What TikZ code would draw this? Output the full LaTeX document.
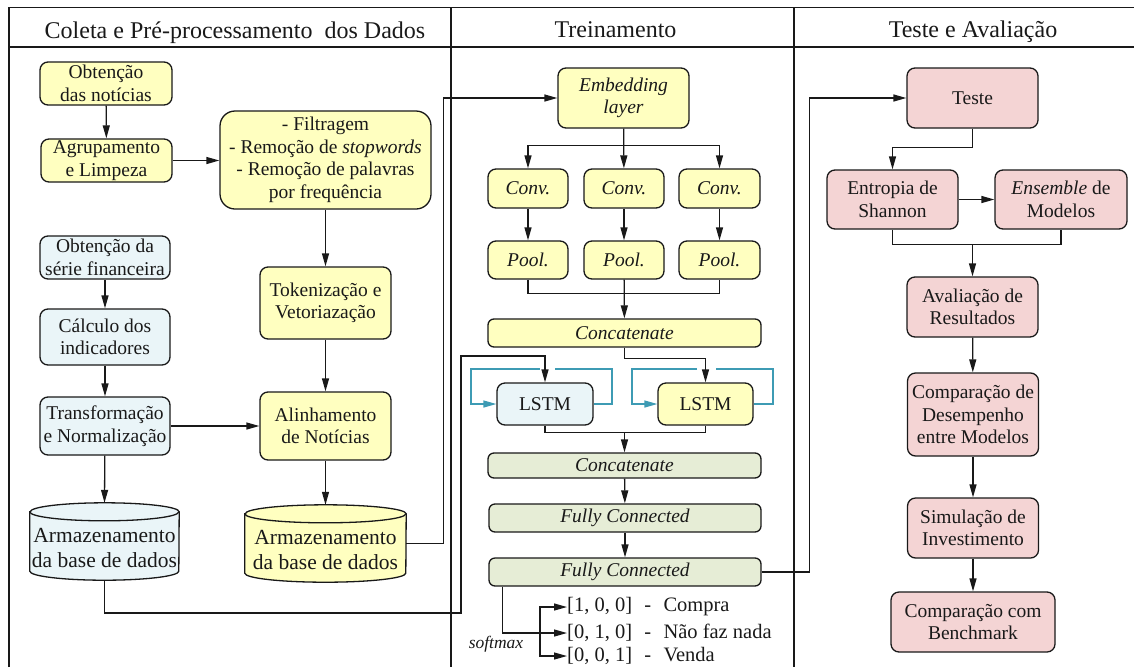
\documentclass[tikz,border=0pt]{standalone}
\usepackage{fontspec}
\setmainfont{Liberation Serif}
\usetikzlibrary{arrows.meta,calc}

\definecolor{yel}{RGB}{255,255,192}
\definecolor{blu}{RGB}{234,245,248}
\definecolor{grn}{RGB}{230,237,214}
\definecolor{pnk}{RGB}{244,212,212}
\definecolor{loopc}{RGB}{61,155,180}
\definecolor{ink}{RGB}{25,25,25}

\newcommand\nfont{\fontsize{19.5}{22.5}\selectfont}
\newcommand\cfont{\fontsize{21.5}{25}\selectfont}
\newcommand\hfont{\fontsize{24}{26}\selectfont}

% database cylinder drawn around an empty node: name, fill, half width
\newcommand\dbcyl[3]{%
  \path[draw=ink, line width=1.3pt, fill=#2]
    ($(#1.north west)+(0,9)$) -- ($(#1.south west)+(0,-9)$)
    arc[start angle=180, end angle=360, x radius=#3pt, y radius=9pt]
    -- ($(#1.north east)+(0,9)$)
    arc[start angle=0, end angle=180, x radius=#3pt, y radius=9pt] -- cycle;
  \draw[ink, line width=1.3pt] ($(#1.north west)+(0,9)$)
    arc[start angle=180, end angle=360, x radius=#3pt, y radius=9pt];
}

\begin{document}
\begin{tikzpicture}[x=1pt,y=-1pt,
  box/.style={draw=ink, line width=1.3pt, rounded corners=8pt, align=center,
    inner sep=0pt, font=\nfont, text=ink},
  ibox/.style={box, font=\nfont\itshape},
  frame/.style={line width=1.7pt, draw=ink},
  conn/.style={line width=1.3pt, draw=ink},
  arr/.style={conn, -{Triangle[length=13pt,width=7pt]}},
  rec/.style={line width=1.3pt, draw=loopc},
  recarr/.style={rec, -{Triangle[length=13pt,width=7pt]}},
  outtxt/.style={anchor=west, inner sep=0pt, font=\fontsize{20.5}{22}\selectfont, text=ink}]

\useasboundingbox (0,0) rectangle (1134,667);

% ---- frame and headers
\draw[frame] (9,667) -- (9,7.5) -- (1134,7.5);
\draw[frame] (9,47) -- (1134,47);
\draw[frame] (451,7.5) -- (451,667);
\draw[frame] (794,7.5) -- (794,667);
\node[anchor=base, inner sep=0pt, font=\hfont, text=ink] (h1) at (235,38) {Coleta e Pré-processamento~ dos Dados};
\node[anchor=base, inner sep=0pt, font=\hfont, text=ink] (h2) at (615.5,37.5) {Treinamento};
\node[anchor=base, inner sep=0pt, font=\hfont, text=ink] (h3) at (973,37.5) {Teste e Avaliação};

% ---- data collection and preprocessing
\node[box, fill=yel, minimum width=132, minimum height=43] (obt) at (106,83.5) {Obtenção\\das notícias};
\node[box, fill=yel, minimum width=131, minimum height=43] (agr) at (106.5,160.5) {Agrupamento\\e Limpeza};
\node[box, fill=yel, rounded corners=15pt, minimum width=211, minimum height=98] (filt) at (325.5,160)
  {- Filtragem\\- Remoção de \textit{stopwords}\\- Remoção de palavras\\por frequência};
\node[box, fill=blu, minimum width=130, minimum height=43] (serie) at (105,257.5) {Obtenção da\\série financeira};
\node[box, fill=blu, minimum width=130, minimum height=56] (calc) at (105,337) {Cálculo dos\\indicadores};
\node[box, fill=blu, minimum width=130, minimum height=58] (transf) at (105,426) {Transformação\\e Normalização};
\node[box, fill=yel, minimum width=131, minimum height=72] (token) at (325.5,303) {Tokenização e\\Vetoriazação};
\node[box, fill=yel, minimum width=131, minimum height=68] (alin) at (325.5,426) {Alinhamento\\de Notícias};

\node[inner sep=0pt, minimum width=149, minimum height=77] (cyl1) at (104.5,541.5) {};
\dbcyl{cyl1}{blu}{74.5}
\node[align=center, inner sep=0pt, font=\cfont, text=ink] (cyl1t) at (104.5,548) {Armazenamento\\da base de dados};
\node[inner sep=0pt, minimum width=161, minimum height=77] (cyl2) at (325.5,543.5) {};
\dbcyl{cyl2}{yel}{80.5}
\node[align=center, inner sep=0pt, font=\cfont, text=ink] (cyl2t) at (325.5,550) {Armazenamento\\da base de dados};

\draw[arr] (obt) -- (agr);
\draw[arr] (agr.east) -- (agr.east -| filt.west);
\draw[arr] (filt) -- (token);
\draw[arr] (token) -- (alin);
\draw[arr] (serie) -- (calc);
\draw[arr] (calc) -- (transf);
\draw[arr] (transf) -- (cyl1.north);
\draw[arr] (transf.east) -- (transf.east -| alin.west);
\draw[arr] (alin) -- (cyl2.north);

% ---- training
\node[ibox, fill=yel, minimum width=131, minimum height=60] (emb) at (623.5,98) {Embedding\\layer};
\node[ibox, fill=yel, minimum width=80, minimum height=39] (conv1) at (528,188.5) {Conv.};
\node[ibox, fill=yel, minimum width=80, minimum height=39] (conv2) at (624,188.5) {Conv.};
\node[ibox, fill=yel, minimum width=81, minimum height=39] (conv3) at (719.5,188.5) {Conv.};
\node[ibox, fill=yel, minimum width=80, minimum height=38] (pool1) at (528,260) {Pool.};
\node[ibox, fill=yel, minimum width=80, minimum height=38] (pool2) at (624,260) {Pool.};
\node[ibox, fill=yel, minimum width=81, minimum height=38] (pool3) at (719.5,260) {Pool.};
\node[ibox, fill=yel, rounded corners=6pt, minimum width=273, minimum height=28] (cat1) at (624.5,333) {Concatenate};
\node[box, fill=blu, minimum width=96, minimum height=42] (lstm1) at (545,404) {LSTM};
\node[box, fill=yel, minimum width=95, minimum height=42] (lstm2) at (705.5,404) {LSTM};
\node[ibox, fill=grn, rounded corners=6pt, minimum width=273, minimum height=25] (cat2) at (624.5,465.5) {Concatenate};
\node[ibox, fill=grn, rounded corners=6pt, minimum width=272, minimum height=28] (fc1) at (625,518) {Fully Connected};
\node[ibox, fill=grn, rounded corners=6pt, minimum width=272, minimum height=28] (fc2) at (625,572) {Fully Connected};

\node[outtxt] (out1) at (567,607) {[1, 0, 0]\hspace{0.6em}-\hspace{0.6em}Compra};
\node[outtxt] (out2) at (567,633) {[0, 1, 0]\hspace{0.6em}-\hspace{0.6em}Não faz nada};
\node[outtxt] (out3) at (567,656) {[0, 0, 1]\hspace{0.6em}-\hspace{0.6em}Venda};
\node[inner sep=0pt, font=\fontsize{17.5}{19}\selectfont\itshape, text=ink] (smax) at (496,644) {softmax};

% news database to the embedding layer
\draw[arr] (cyl2.east) -- ++(37,0) |- (emb.west);
% financial database to the first LSTM
\coordinate (j1) at (461,613);
\coordinate (j2) at (461,356);
\draw[arr] (cyl1.south) |- (j1) -- (j2) -| (lstm1.north);

\draw[conn] (emb.south) -- ++(0,17) coordinate (eb);
\draw[arr] (eb) -| (conv1.north);
\draw[arr] (eb) -| (conv3.north);
\draw[arr] (emb) -- (conv2);
\draw[arr] (conv1) -- (pool1);
\draw[arr] (conv2) -- (pool2);
\draw[arr] (conv3) -- (pool3);
\draw[conn] (pool1.south) -- ++(0,14) -| (pool3.south);
\draw[arr] (pool2) -- (cat1);
\draw[arr] (cat1.south) -- ++(0,11) -| (lstm2.north);

% recurrent loops
\draw[rec] (lstm1.east) -| (612,369) -- (555,369);
\draw[recarr] (540,369) -| (471,404) -- (lstm1.west);
\draw[rec] (lstm2.east) -| (773,369) -- (716,369);
\draw[recarr] (697,369) -| (632,404) -- (lstm2.west);

\draw[conn] (lstm1.south) -- ++(0,7) -| (lstm2.south);
\coordinate (lj) at (624.5,432);
\draw[arr] (lj) -- (cat2.north);
\draw[arr] (cat2) -- (fc1);
\draw[arr] (fc1) -- (fc2);

% softmax outputs
\coordinate (sj) at (540,633);
\draw[conn] ([xshift=14pt]fc2.south west) |- (sj);
\draw[arr] (sj) |- (out1.west);
\draw[arr] (sj) -- (out2.west);
\draw[arr] (sj) |- (out3.west);

% ---- test and evaluation
\node[box, fill=pnk, minimum width=131, minimum height=60] (teste) at (972.5,98) {Teste};
\node[box, fill=pnk, minimum width=131, minimum height=59] (entr) at (892.5,199.5) {Entropia de\\Shannon};
\node[box, fill=pnk, minimum width=132, minimum height=59] (ens) at (1061,199.5) {\textit{Ensemble} de\\Modelos};
\node[box, fill=pnk, minimum width=131, minimum height=60] (aval) at (972.5,307) {Avaliação de\\Resultados};
\node[box, fill=pnk, minimum width=131, minimum height=83] (compd) at (973,414.5) {Comparação de\\Desempenho\\entre Modelos};
\node[box, fill=pnk, minimum width=131, minimum height=60] (simul) at (973,528) {Simulação de\\Investimento};
\node[box, fill=pnk, minimum width=164, minimum height=60] (bench) at (973,622) {Comparação com\\Benchmark};

\draw[arr] (fc2.east) -- ++(48,0) |- (teste.west);
\draw[arr] (teste.south) -- ++(0,19) -| (entr.north);
\draw[arr] (entr) -- (ens);
\draw[conn] (entr.south) -- ++(0,15) -| (ens.south);
\coordinate (ej) at (972.5,244);
\draw[arr] (ej) -- (aval.north);
\draw[arr] (aval) -- (compd);
\draw[arr] (compd) -- (simul);
\draw[arr] (simul) -- (bench);

\end{tikzpicture}
\end{document}
